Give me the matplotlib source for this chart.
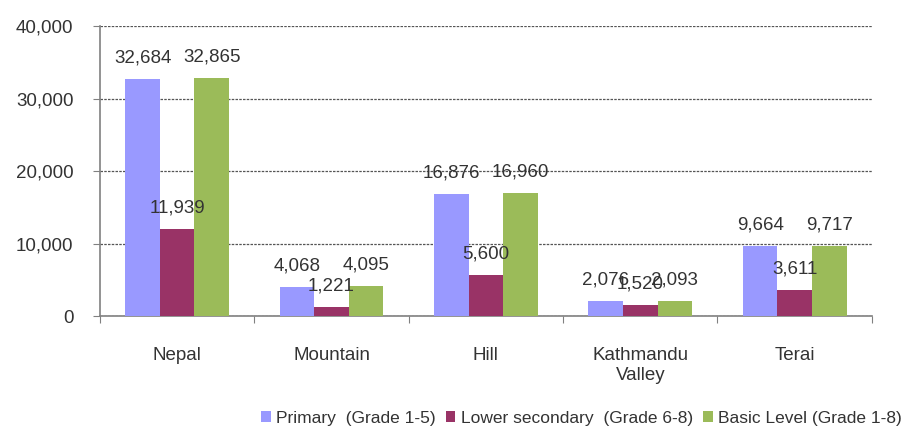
import matplotlib
matplotlib.use("Agg")
import matplotlib.pyplot as plt
import numpy as np

categories = ["Nepal", "Mountain", "Hill", "Kathmandu\nValley", "Terai"]
series_names = ["Primary  (Grade 1-5)", "Lower secondary  (Grade 6-8)", "Basic Level (Grade 1-8)"]
primary = [32684, 4068, 16876, 2076, 9664]
lower_secondary = [11939, 1221, 5600, 1520, 3611]
basic_level = [32865, 4095, 16960, 2093, 9717]
y_ticks = [0, 10000, 20000, 30000, 40000]

colors = ["#9999FF", "#993366", "#9BBB59"]

plt.rcParams['font.family'] = ['Liberation Sans', 'DejaVu Sans']

fig = plt.figure(figsize=(9.12, 4.30), dpi=100)
ax = fig.add_axes([0.1096, 0.265, 0.8464, 0.6745])

fs = 13.5
x = np.arange(len(categories))
w = 0.224
series = [primary, lower_secondary, basic_level]
for i, (vals, name, c) in enumerate(zip(series, series_names, colors)):
    pos = x + (i - 1) * w
    bars = ax.bar(pos, vals, width=w, color=c, label=name, zorder=3)
    for b, v in zip(bars, vals):
        ax.annotate(f"{v:,}", (b.get_x() + b.get_width() / 2, v),
                    xytext=(0, 9), textcoords="offset points",
                    ha="center", va="bottom", fontsize=fs, color="#333333", zorder=5)

ax.set_xlim(-0.5, len(categories) - 0.5)
ax.set_ylim(0, 40000)
ax.set_yticks(y_ticks)
ax.set_yticklabels([f"{t:,}" for t in y_ticks], fontsize=fs, color="#333333")
ax.yaxis.grid(True, linestyle=(0, (2, 1)), color="#555555", linewidth=0.9, zorder=0)

ax.set_xticks(np.arange(len(categories) + 1) - 0.5)
ax.set_xticklabels([])
ax.set_xticks(x, minor=True)
ax.set_xticklabels(categories, minor=True, fontsize=fs, color="#333333", linespacing=1.25)
ax.tick_params(axis="x", which="minor", length=0, pad=22)
ax.tick_params(axis="x", which="major", length=5, direction="out", color="#808080")
ax.tick_params(axis="y", length=5, direction="out", color="#808080", pad=14)

for s in ["top", "right"]:
    ax.spines[s].set_visible(False)
for s in ["left", "bottom"]:
    ax.spines[s].set_color("#808080")
    ax.spines[s].set_linewidth(1.2)

fig.legend(loc="lower right", bbox_to_anchor=(1.0, -0.014), ncol=3, frameon=False,
           fontsize=12.5, handlelength=0.55, handleheight=0.55, handletextpad=0.3,
           columnspacing=0.6, labelcolor="#333333", borderaxespad=0.2)

fig.savefig("out.png", dpi=100)
